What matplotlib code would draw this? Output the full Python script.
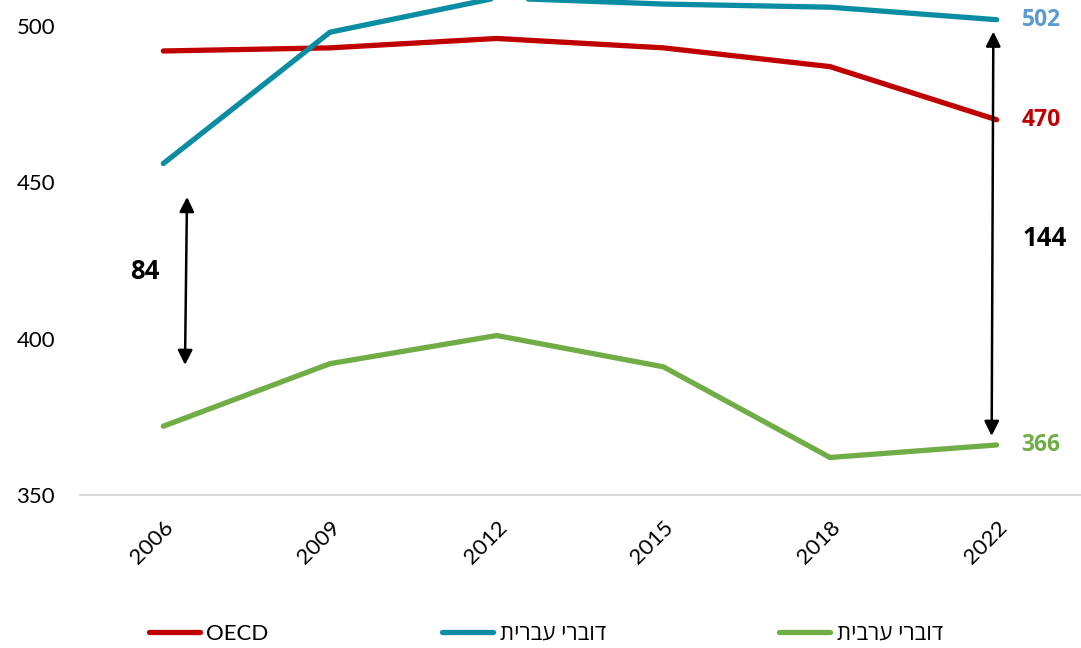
import matplotlib.pyplot as plt

plt.rcParams['font.family'] = ['Lato', 'Open Sans', 'DejaVu Sans']

# נתונים
years = ['2006', '2009', '2012', '2015', '2018', '2022']
oecd = [492, 493, 496, 493, 487, 470]
hebrew = [456, 498, 509, 507, 506, 502]
arabic = [372, 392, 401, 391, 362, 366]

lbl_oecd = 'OECD'
lbl_hebrew = 'דוברי עברית'
lbl_arabic = 'דוברי ערבית'

c_oecd = '#C00000'
c_hebrew = '#0A8CA2'
c_arabic = '#70AD47'

def rtl(s):
    # matplotlib אינו הופך טקסט מימין לשמאל
    return s[::-1]

fig = plt.figure(figsize=(10.81, 6.48), dpi=100)
ax = fig.add_axes([80 / 1081, 1 - 495 / 648, 1000 / 1081, 495 / 648])

x = list(range(len(years)))
ax.plot(x, oecd, color=c_oecd, lw=3.8, solid_capstyle='round', label=lbl_oecd)
ax.plot(x, hebrew, color=c_hebrew, lw=3.8, solid_capstyle='round', label=rtl(lbl_hebrew))
ax.plot(x, arabic, color=c_arabic, lw=3.8, solid_capstyle='round', label=rtl(lbl_arabic))

ax.set_xlim(-0.5, 5.5)
ax.set_ylim(350, 508.3)
ax.set_yticks([350, 400, 450, 500])
ax.tick_params(axis='y', length=0, pad=18, labelsize=16)
ax.set_xticks(x)
ax.set_xticklabels(years, rotation=45, ha='right', rotation_mode='anchor')
ax.tick_params(axis='x', length=0, pad=16, labelsize=16)
for s in ax.spines.values():
    s.set_visible(False)
ax.axhline(350, color='#D9D9D9', lw=1.5, clip_on=False)

# תוויות בסוף הקווים
bold = dict(family=['Open Sans', 'DejaVu Sans'], fontweight='bold')
ax.text(5.15, hebrew[-1], str(hebrew[-1]), color='#5B9BD5', fontsize=16.5,
        ha='left', va='center', clip_on=False, **bold)
ax.text(5.15, oecd[-1], str(oecd[-1]), color=c_oecd, fontsize=16.5,
        ha='left', va='center', clip_on=False, **bold)
ax.text(5.15, arabic[-1], str(arabic[-1]), color=c_arabic, fontsize=16.5,
        ha='left', va='center', clip_on=False, **bold)

# חיצים לפערים
arrow = dict(arrowstyle='<|-|>', color='black', lw=1.8, mutation_scale=22,
             shrinkA=0, shrinkB=0)
ax.annotate('', xy=(0.142, 445.3), xytext=(0.13, 391.6), arrowprops=arrow)
ax.annotate('', xy=(4.98, 498.2), xytext=(4.97, 368.9), arrowprops=arrow)
ax.text(-0.11, 421.6, '84', fontsize=18.5, ha='center', va='center', **bold)
ax.text(5.29, 431.9, '144', fontsize=18.5, ha='center', va='center',
        clip_on=False, **bold)

fig.legend(loc='center', bbox_to_anchor=(0.505, 1 - 634 / 648), ncol=3, frameon=False,
           fontsize=16, handlelength=2.3, handletextpad=0.3, columnspacing=7.8)

plt.savefig('out.png', dpi=100)
